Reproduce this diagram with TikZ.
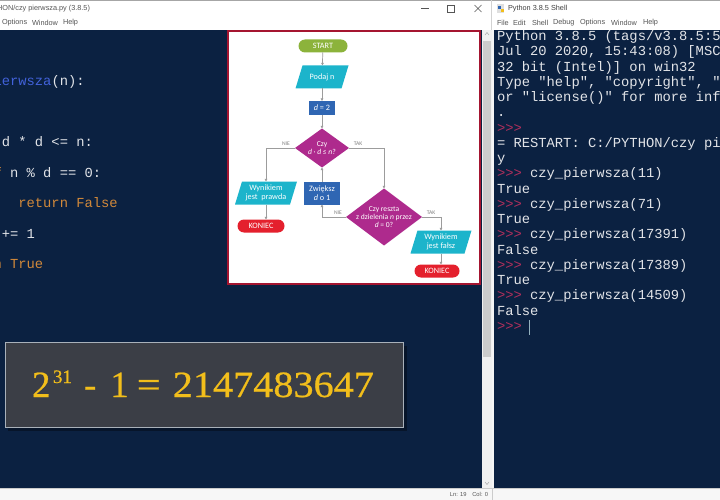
\documentclass[tikz,border=0pt]{standalone}
\usepackage{fontspec}
\setmainfont{Liberation Sans}
\newfontfamily\codefont{Liberation Mono}
\newfontfamily\flowfont{Carlito}
\newfontfamily\formfont[FakeBold=0.6]{Liberation Serif}
\usetikzlibrary{shapes.geometric,arrows.meta}
\definecolor{navy}{HTML}{0B2141}
\definecolor{codewhite}{HTML}{E2E4E8}
\definecolor{kwor}{HTML}{D2893A}
\definecolor{fnblue}{HTML}{4262DA}
\definecolor{prompt}{HTML}{B02F5C}
\definecolor{greenc}{HTML}{8CB33B}
\definecolor{cyanc}{HTML}{1CB4CB}
\definecolor{bluec}{HTML}{2F66B3}
\definecolor{magc}{HTML}{AE2A8D}
\definecolor{redc}{HTML}{E4202D}
\definecolor{flline}{HTML}{9C9C9C}
\definecolor{frame}{HTML}{A51530}
\definecolor{boxgray}{HTML}{3B3E46}
\definecolor{boxedge}{HTML}{A9B1BA}
\definecolor{gold}{HTML}{F2BE1B}
\definecolor{uigray}{HTML}{555555}
\newcommand\flpara[6]{%
  \fill[cyanc] ({#2-#4/2+7},{#3-#5/2}) -- ({#2+#4/2},{#3-#5/2}) -- ({#2+#4/2-7},{#3+#5/2}) -- ({#2-#4/2},{#3+#5/2}) -- cycle;
  \node[fl, minimum height=#5] (#1) at (#2,#3) {#6};}
\begin{document}
\begin{tikzpicture}[x=1pt,y=-1pt,
  every node/.style={inner sep=0pt, outer sep=0pt},
  code/.style={anchor=mid west, font=\codefont\fontsize{13.8}{15}\selectfont, text=codewhite},
  ui/.style={anchor=west, font=\fontsize{7.3}{8}\selectfont, text=uigray},
  fl/.style={font=\flowfont\fontsize{8.2}{9}\selectfont, text=white, align=center},
  dtext/.style={font=\flowfont\fontsize{7.6}{8.4}\selectfont, text=white, align=center},
  term/.style={fl, rounded corners=6.5pt, minimum height=13},
  rectbox/.style={fl, fill=bluec},
  dia/.style={diamond, fill=magc, aspect=1.35},
  lbl/.style={font=\flowfont\fontsize{5.6}{6}\selectfont, text=gray},
  conn/.style={draw=flline, line width=0.7pt, -{Triangle[length=2.6pt,width=2.6pt]}},
  plain/.style={draw=flline, line width=0.7pt}
]
\useasboundingbox (0,0) rectangle (720,500);
% ---------- backgrounds ----------
\fill[white] (0,0) rectangle (720,30);
\draw[gray!70, line width=1pt] (0,0.5) -- (720,0.5);
\draw[gray!35] (491.5,0) -- (491.5,30);
\fill[navy] (0,30) rectangle (482,488);
\fill[navy] (494,30) rectangle (720,488);
\fill[gray!12] (482,30) rectangle (492,488);
\fill[gray!40] (483,41) rectangle (491,357);
\fill[gray!8] (492,30) rectangle (494,488);
\fill[gray!6] (0,488) rectangle (720,500);
\draw[gray!40] (0,488.5) -- (720,488.5);
\draw[gray!40] (492.5,488) -- (492.5,500);
\draw[gray!60, line width=0.6pt] (485,35) -- (487,32.5) -- (489,35);
\draw[gray!60, line width=0.6pt] (485,482) -- (487,484.5) -- (489,482);
% ---------- title bars ----------
\node[ui, anchor=east] (ltitle) at (90,9) {PYTHON/czy pierwsza.py (3.8.5)};
\node[ui] (lm1) at (2,23) {Options};
\node[ui] (lm2) at (32,23) {Window};
\node[ui] (lm3) at (63,23) {Help};
\draw[uigray, line width=0.5pt] (421,8.5) -- (429,8.5);
\draw[uigray, line width=0.5pt] (447.5,5) rectangle (454.5,12);
\draw[uigray, line width=0.5pt] (474.5,5) -- (481.5,12) (474.5,12) -- (481.5,5);
\fill[gray!25] (497,4) rectangle (504,13);
\fill[bluec] (498,6) rectangle (501,9.5);
\fill[gold] (500.5,9) rectangle (503.5,12.5);
\node[ui, text=black!75] (rtitle) at (508,9) {Python 3.8.5 Shell};
\node[ui] (rm1) at (497,23) {File};
\node[ui] (rm2) at (513,23) {Edit};
\node[ui] (rm3) at (532,23) {Shell};
\node[ui] (rm4) at (553,23) {Debug};
\node[ui] (rm5) at (580,23) {Options};
\node[ui] (rm6) at (611,23) {Window};
\node[ui] (rm7) at (643,23) {Help};
\node[ui, anchor=east, font=\fontsize{5.8}{6}\selectfont] (status) at (488,494) {Ln: 19\quad Col: 0};
% ---------- code ----------
\begin{scope}
\clip (0,30) rectangle (482,488);
\node[code] (c1) at (-81,83) {\textcolor{kwor}{def} \textcolor{fnblue}{czy\_pierwsza}(n):};
\node[code] (c3) at ({-81+4*8.28},144) {\textcolor{kwor}{while} d * d <= n:};
\node[code] (c4) at ({-81+8*8.28},175) {\textcolor{kwor}{if} n \% d == 0:};
\node[code] (c5) at ({-81+12*8.28},205) {\textcolor{kwor}{return} \textcolor{kwor}{False}};
\node[code] (c6) at ({-81+8*8.28},236) {d += 1};
\node[code] (c7) at ({-81+4*8.28},266) {\textcolor{kwor}{return} \textcolor{kwor}{True}};
\end{scope}
% ---------- shell ----------
\begin{scope}
\clip (494,30) rectangle (720,488);
\def\sx{497}
\node[code] (s0) at (\sx,38) {Python 3.8.5 (tags/v3.8.5:5};
\node[code] (s1) at (\sx,53.25) {Jul 20 2020, 15:43:08) [MSC};
\node[code] (s2) at (\sx,68.5) {32 bit (Intel)] on win32};
\node[code] (s3) at (\sx,83.75) {Type "help", "copyright", "};
\node[code] (s4) at (\sx,99) {or "license()" for more inf};
\node[code] (s5) at (\sx,114.25) {.};
\node[code, text=prompt] (s6) at (\sx,129.5) {>>>};
\node[code] (s7) at (\sx,144.75) {= RESTART: C:/PYTHON/czy pi};
\node[code] (s8) at (\sx,160) {y};
\node[code] (s9) at (\sx,175.25) {\textcolor{prompt}{>>>} czy\_pierwsza(11)};
\node[code] (s10) at (\sx,190.5) {True};
\node[code] (s11) at (\sx,205.75) {\textcolor{prompt}{>>>} czy\_pierwsza(71)};
\node[code] (s12) at (\sx,221) {True};
\node[code] (s13) at (\sx,236.25) {\textcolor{prompt}{>>>} czy\_pierwsza(17391)};
\node[code] (s14) at (\sx,251.5) {False};
\node[code] (s15) at (\sx,266.75) {\textcolor{prompt}{>>>} czy\_pierwsza(17389)};
\node[code] (s16) at (\sx,282) {True};
\node[code] (s17) at (\sx,297.25) {\textcolor{prompt}{>>>} czy\_pierwsza(14509)};
\node[code] (s18) at (\sx,312.5) {False};
\node[code, text=prompt] (s19) at (\sx,327.75) {>>>};
\coordinate (cur) at (529,320);
\draw[cyan!30!gray!80, line width=0.9pt] (cur) -- ++(0,15);
\end{scope}
% ---------- flowchart picture ----------
\fill[white] (227,30) rectangle (481,285);
\draw[frame, line width=2.4pt] (228.2,31.2) rectangle (479.8,283.8);
\node[term, fill=greenc, minimum width=49] (start) at (323,46) {START};
\flpara{podaj}{322}{77}{53}{23}{Podaj n}
\node[rectbox, minimum width=26, minimum height=14] (d2) at (322,108) {\textit{d} = 2};
\node[dia, minimum width=54, minimum height=39] (q1) at (322,148) {};
\node[dtext] (q1t) at (q1) {Czy\\\textit{d} · \textit{d} ≤ \textit{n}?};
\flpara{wyn1}{266}{193}{62}{23}{Wynikiem\\jest\ \ prawda}
\node[term, fill=redc, minimum width=47] (kon1) at (261,226) {KONIEC};
\node[rectbox, minimum width=36, minimum height=23] (zw) at (322,193) {Zwiększ\\\textit{d} o 1};
\node[dia, minimum width=76, minimum height=57] (q2) at (384,217) {};
\node[dtext] (q2t) at (q2) {Czy reszta\\z dzielenia \textit{n} przez\\\textit{d} = 0?};
\flpara{wyn2}{441}{242}{61}{23}{Wynikiem\\jest fałsz}
\node[term, fill=redc, minimum width=45] (kon2) at (437,271) {KONIEC};
\node[lbl] (nie1) at (286,144) {NIE};
\node[lbl] (tak1) at (358,144) {TAK};
\node[lbl] (nie2) at (338,213) {NIE};
\node[lbl] (tak2) at (431,213) {TAK};
\draw[conn] (start) -- (podaj);
\draw[conn] (podaj) -- (d2);
\draw[conn] (d2) -- (q1);
\draw[conn] (q1.west) -| (wyn1.north);
\draw[conn] (q1.east) -| (q2.north);
\draw[conn] (wyn1.south) -- (wyn1.south |- kon1.north);
\draw[conn] (q2.west) -| (zw.south);
\draw[conn] (zw.north) -- (q1.south);
\draw[conn] (q2.east) -| (wyn2.north);
\draw[conn] (wyn2.south) -- (wyn2.south |- kon2.north);
% ---------- formula box ----------
\fill[black, opacity=0.35] (8,346) rectangle (407,431);
\fill[boxgray] (5,342) rectangle (403,427);
\draw[boxedge, line width=0.8pt] (5,342) rectangle (403,427);
\node[anchor=base west, text=gold, font=\formfont\fontsize{37}{37}\selectfont] (formula) at (32,397)
  {2\kern2.5pt\raisebox{14pt}{\fontsize{19}{19}\selectfont 31}\kern12pt-\kern14pt1\kern8pt\scalebox{1.15}[1]{=}\kern12pt\scalebox{1.087}[1]{2147483647}};
\end{tikzpicture}
\end{document}
